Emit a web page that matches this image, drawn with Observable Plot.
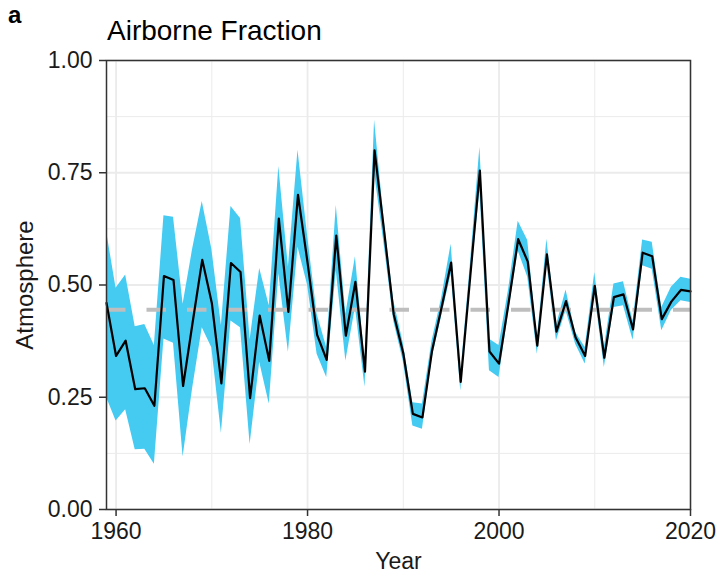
<!DOCTYPE html>
<html><head><meta charset="utf-8">
<script src="https://cdn.jsdelivr.net/npm/d3@7"></script>
<script src="https://cdn.jsdelivr.net/npm/@observablehq/plot@0.6"></script>
<style>
body{margin:0;background:#fff;font-family:"Liberation Sans",Arial,sans-serif;}
#wrap{position:relative;width:723px;}
#hdr{position:relative;height:36px;z-index:2;}
#panel{position:absolute;left:8px;top:3px;font-size:24px;font-weight:bold;line-height:1;color:#000;}
#title{position:absolute;left:107px;top:17px;font-size:28px;line-height:1;color:#000;white-space:nowrap;}
#chart{position:relative;z-index:1;}
#chart svg{background:transparent;}
</style></head><body>
<div id="wrap"><div id="hdr"><span id="panel">a</span><span id="title">Airborne Fraction</span></div><div id="chart"></div></div>
<script>
const years = [1959,1960,1961,1962,1963,1964,1965,1966,1967,1968,1969,1970,1971,1972,1973,1974,1975,1976,1977,1978,1979,
  1980,1981,1982,1983,1984,1985,1986,1987,1988,1989,1990,1991,1992,1993,1994,1995,1996,1997,1998,1999,
  2000,2001,2002,2003,2004,2005,2006,2007,2008,2009,2010,2011,2012,2013,2014,2015,2016,2017,2018,2019,2020];
const meanAF = [0.46,0.342,0.376,0.268,0.270,0.231,0.520,0.511,0.275,0.417,0.556,0.46,0.281,0.549,0.529,0.248,0.432,0.331,0.648,0.44,0.701,
  0.55,0.389,0.333,0.610,0.387,0.507,0.307,0.800,0.62,0.435,0.348,0.213,0.205,0.353,0.45,0.550,0.284,0.52,0.755,0.352,
  0.325,0.46,0.602,0.552,0.365,0.568,0.396,0.464,0.383,0.342,0.498,0.338,0.473,0.479,0.401,0.572,0.564,0.424,0.463,0.489,0.486];
const upperAF = [0.62,0.493,0.522,0.407,0.412,0.365,0.654,0.651,0.457,0.58,0.686,0.58,0.41,0.675,0.648,0.378,0.537,0.454,0.764,0.54,0.80,
  0.61,0.435,0.361,0.677,0.435,0.563,0.331,0.867,0.645,0.465,0.37,0.238,0.235,0.375,0.47,0.591,0.30,0.545,0.807,0.379,
  0.365,0.49,0.642,0.599,0.38,0.602,0.41,0.489,0.394,0.361,0.528,0.36,0.502,0.507,0.42,0.600,0.595,0.45,0.495,0.517,0.513];
const lowerAF = [0.25,0.197,0.222,0.133,0.134,0.101,0.380,0.370,0.117,0.27,0.405,0.36,0.17,0.420,0.405,0.145,0.328,0.235,0.525,0.35,0.584,
  0.50,0.346,0.294,0.532,0.331,0.450,0.272,0.75,0.59,0.42,0.33,0.186,0.179,0.335,0.43,0.524,0.264,0.50,0.71,0.309,
  0.294,0.44,0.576,0.517,0.346,0.547,0.376,0.443,0.368,0.324,0.480,0.316,0.450,0.454,0.377,0.543,0.535,0.398,0.443,0.465,0.461];
const meanLine = [0.445];
const xTicks = [1960,1980,2000,2020];
const xMinor = [1970,1990,2010];
const yTicks = [0,0.25,0.5,0.75,1];
const yMinor = [0.125,0.375,0.625,0.875];
const yTickLabels = ["0.00","0.25","0.50","0.75","1.00"];
const xLabel = "Year";
const yLabel = "Atmosphere";

const data = years.map((year,i)=>({year, mean: meanAF[i], lo: lowerAF[i], hi: upperAF[i]}));

const chart = Plot.plot({
  width:723, height:545,
  marginTop:24, marginBottom:72, marginLeft:106, marginRight:33,
  x:{domain:[1959,2020]}, y:{domain:[0,1]},
  style:{fontFamily:"Liberation Sans, Arial, sans-serif", fontSize:"23px", color:"#1a1a1a", background:"transparent", overflow:"visible"},
  marks:[
    Plot.ruleX(xMinor, {stroke:"#ebebeb", strokeWidth:1, strokeOpacity:1}),
    Plot.ruleY(yMinor, {stroke:"#ebebeb", strokeWidth:1, strokeOpacity:1}),
    Plot.ruleX(xTicks, {stroke:"#ebebeb", strokeWidth:1.8, strokeOpacity:1}),
    Plot.ruleY(yTicks, {stroke:"#ebebeb", strokeWidth:1.8, strokeOpacity:1}),
    Plot.areaY(data, {x:"year", y1:"lo", y2:"hi", fill:"#45caf2", fillOpacity:1}),
    Plot.ruleY(meanLine, {stroke:"#bebebe", strokeWidth:4, strokeDasharray:"19.5 21", strokeOpacity:1}),
    Plot.lineY(data, {x:"year", y:"mean", stroke:"#000", strokeWidth:2.2}),
    Plot.frame({stroke:"#333", strokeWidth:1.5}),
    Plot.axisX(xTicks, {tickSize:7, tickPadding:6, tickFormat:d=>String(d), label:null, stroke:"#333", strokeWidth:1.5, fontSize:23}),
    Plot.axisY(yTicks, {tickSize:7, tickPadding:7, tickFormat:d=>yTickLabels[yTicks.indexOf(d)], label:null, stroke:"#333", strokeWidth:1.5, fontSize:23}),
    Plot.text([xLabel], {text:d=>d, frameAnchor:"bottom", dy:52, fontSize:23, textAnchor:"middle", lineAnchor:"middle", fill:"#1a1a1a"}),
    Plot.text([yLabel], {text:d=>d, frameAnchor:"left", dx:-81, rotate:-90, fontSize:24, textAnchor:"middle", lineAnchor:"middle", fill:"#1a1a1a"})
  ]
});
document.getElementById("chart").appendChild(chart);
</script>
</body></html>
